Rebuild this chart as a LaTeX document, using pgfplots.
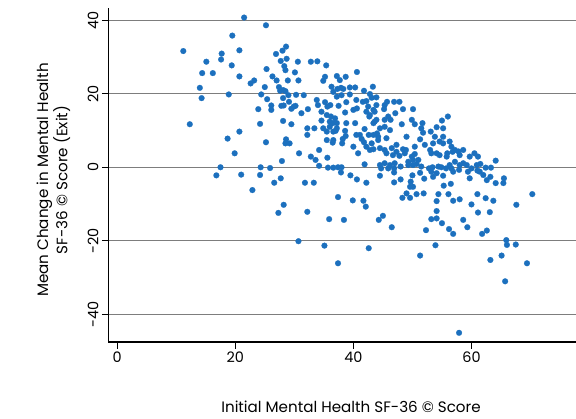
\documentclass[border=0pt]{standalone}
\usepackage{pgfplots}
\pgfplotsset{compat=1.18}
\usepackage{pgfplotstable}
\usepackage{fontspec}
\setmainfont{Poppins}
\definecolor{dotblue}{RGB}{28,112,190}
\definecolor{gridgray}{RGB}{125,125,125}
\pgfplotstableread{
x y
11.2 31.6
12.3 11.7
14.0 21.6
14.3 18.8
14.4 25.6
15.1 28.7
16.2 25.6
16.8 -2.2
17.5 0.0
17.7 30.9
17.6 29.3
18.7 7.8
18.9 19.8
19.5 35.8
19.4 27.7
19.9 3.8
20.7 31.8
20.7 24.7
20.7 9.7
21.0 -2.0
21.5 40.7
22.6 22.8
23.2 23.6
22.9 -6.2
23.9 15.8
24.2 11.8
24.3 0.0
24.2 -2.1
24.4 19.8
25.0 21.8
25.2 38.6
25.2 6.8
25.3 26.7
25.4 18.5
25.9 -0.2
26.1 16.8
26.1 15.6
26.3 24.7
26.6 -4.2
26.9 30.8
27.0 23.6
27.3 -12.4
27.4 21.8
27.6 20.8
27.7 28.9
27.7 -3.0
27.8 16.7
28.0 31.7
27.9 1.7
28.1 18.8
28.1 12.6
28.2 16.8
28.2 -10.2
28.3 27.5
28.5 26.4
28.5 20.7
28.6 32.8
28.7 29.5
28.6 7.6
28.5 6.5
28.9 23.6
29.0 19.6
29.1 17.8
29.2 6.5
29.5 15.9
29.5 11.7
29.9 16.5
30.1 25.8
30.2 16.7
30.3 19.7
30.6 28.7
30.7 23.6
30.7 -20.1
30.8 3.8
31.6 19.6
28.1 21.0
31.2 14.7
31.8 -4.2
32.2 10.6
32.2 8.8
32.2 -12.1
32.3 15.8
32.8 28.7
32.8 2.9
33.3 -4.2
33.4 10.6
33.6 2.0
33.8 18.3
33.9 28.8
34.0 16.9
34.2 0.4
34.2 4.7
34.6 15.1
34.6 12.7
34.9 23.5
34.9 10.6
35.1 -21.3
35.2 24.6
35.2 17.7
35.4 27.7
35.5 14.2
35.5 9.7
35.5 7.4
35.6 16.5
35.6 2.6
35.7 -0.1
35.9 -14.1
36.0 12.4
36.0 11.0
36.1 16.9
36.2 13.8
36.3 21.9
36.5 12.0
36.5 6.7
36.6 20.5
36.6 9.7
36.6 -0.1
36.6 7.4
36.9 13.3
37.0 9.9
37.2 24.8
37.2 19.2
37.2 12.0
37.2 10.6
37.3 21.3
37.4 0.0
37.4 -8.1
37.4 -26.1
37.5 16.7
37.7 23.7
37.9 21.6
37.9 -1.4
38.0 19.6
38.0 0.0
38.1 6.5
38.2 7.7
38.3 21.3
38.4 -14.3
38.6 14.9
38.6 9.9
38.7 24.6
38.7 8.5
38.8 17.7
38.8 12.0
39.4 21.7
39.4 19.8
39.5 -2.2
39.9 -9.0
40.0 15.6
40.0 5.6
40.3 21.7
40.3 12.0
40.5 18.3
40.5 8.8
40.6 25.9
40.6 16.0
40.6 -3.3
40.8 3.8
41.1 8.8
41.4 7.7
41.6 17.8
41.7 -9.1
41.8 20.8
41.8 6.8
41.9 10.4
41.9 0.8
42.1 -10.7
42.2 18.0
42.2 15.1
42.2 5.6
42.2 -4.2
42.5 16.5
42.6 8.8
42.6 -22.0
42.7 13.8
42.8 19.9
42.8 14.2
42.8 4.7
43.1 18.9
43.1 6.5
43.3 21.9
43.4 15.6
43.4 12.0
43.4 8.8
43.4 4.9
43.6 15.1
43.6 12.4
43.9 19.0
43.9 16.9
43.9 12.9
44.0 9.2
44.2 8.3
44.2 7.4
44.3 -14.3
44.5 10.6
44.5 5.2
44.5 0.6
44.7 -0.3
44.5 -2.3
45.0 -13.2
45.2 15.8
45.3 16.9
45.3 12.9
45.3 11.0
45.3 4.7
45.3 1.1
45.6 7.9
45.6 3.8
45.7 17.8
45.9 13.8
45.9 -0.3
46.2 10.1
46.2 0.6
46.3 12.9
46.5 5.2
46.5 -16.3
46.7 3.3
46.9 -0.3
46.9 17.8
46.9 -1.4
46.9 -4.1
47.0 1.1
47.1 14.7
47.3 6.1
47.3 4.2
47.8 17.8
47.8 3.1
48.0 0.2
48.0 -3.3
48.2 11.7
48.3 -8.3
48.4 15.8
48.4 4.9
48.7 3.8
48.9 4.7
49.0 8.3
49.0 -7.1
49.3 1.5
49.3 0.6
49.6 -5.3
49.6 -8.3
49.7 -3.9
49.9 12.9
49.9 2.9
50.0 -2.2
50.1 15.8
50.1 2.0
50.1 0.6
50.1 -5.3
50.4 11.7
50.4 5.6
50.4 3.6
50.7 0.9
50.7 -7.3
51.0 2.0
51.3 7.6
51.3 -1.5
51.3 -24.0
51.5 10.6
51.5 0.2
51.7 12.0
51.8 9.4
51.9 -7.1
52.0 -3.1
52.1 6.1
52.3 -17.1
52.8 -0.3
53.0 4.7
53.1 9.7
53.2 3.8
53.2 -1.2
53.2 -14.1
53.4 0.0
53.5 6.5
53.5 -2.6
53.8 8.3
53.9 -21.2
54.1 10.9
54.1 3.8
54.1 -1.6
54.1 -9.2
54.1 -11.9
54.1 -13.9
54.4 0.2
54.4 -7.3
54.6 7.0
54.6 3.3
54.9 0.0
55.0 12.7
55.0 -15.2
55.2 10.6
55.2 8.3
55.2 6.5
55.2 -2.3
55.3 -5.0
55.7 -0.3
55.8 2.9
55.9 3.8
56.0 13.8
56.1 -7.3
56.2 -16.8
56.3 7.0
56.3 0.6
56.5 -4.5
56.6 5.6
56.6 -0.3
56.8 4.2
56.9 -9.1
56.9 -18.1
56.9 -1.2
57.2 4.7
57.2 1.5
57.8 4.3
57.9 -45.0
57.9 -0.7
58.0 3.3
58.0 0.6
58.0 -8.7
58.6 4.7
58.6 1.1
58.6 -14.3
59.2 0.6
59.3 -16.3
59.4 -1.2
59.7 2.9
59.7 -3.0
60.0 -0.3
60.0 -10.1
60.5 3.8
60.9 0.6
61.0 -0.9
61.0 -7.3
61.1 2.9
61.1 -12.3
61.4 -1.2
61.5 0.9
61.8 -18.1
62.0 -2.1
62.4 -0.1
62.4 -8.4
62.6 -3.5
62.6 -17.2
63.1 -12.2
63.2 -2.6
63.2 -25.2
63.3 -0.1
63.7 -9.1
64.1 -4.3
64.1 1.8
65.1 -24.0
65.4 -4.3
65.5 -3.0
65.7 -31.0
65.9 -19.8
66.0 -21.1
67.5 -21.0
67.6 -10.2
69.4 -26.1
70.3 -7.3
}\pts
\begin{document}
\begin{tikzpicture}
\begin{axis}[
  scale only axis, width=467.7bp, height=334bp,
  xmin=-1.5, xmax=77.7, ymin=-47.5, ymax=43.3,
  axis x line=bottom, axis y line=left,
  axis line style={-, black, line width=1.2bp},
  xtick={0,20,40,60}, xticklabels={0,20,40,60},
  ytick={-40,-20,0,20,40}, yticklabels={-40,-20,0,20,40},
  tick align=outside, major tick length=6.5bp,
  tick style={black, line width=1bp},
  ymajorgrids, grid style={gridgray, line width=1bp},
  tick label style={font=\fontsize{14.5}{16}\selectfont},
  yticklabel style={rotate=90, anchor=south, xshift=0bp},
  label style={font=\fontsize{15.2}{17.5}\selectfont},
  xlabel={Initial Mental Health SF-36 © Score},
  xlabel style={at={(axis description cs:0.519,-0.1766)}, anchor=north, inner sep=0pt},
  ylabel={Mean Change in Mental Health\\SF-36 © Score (Exit)},
  ylabel style={at={(axis description cs:-0.1176,0.485)}, anchor=center, align=center, inner sep=0pt},
]
\addplot[only marks, mark=*, mark size=2.9bp, mark options={fill=dotblue, draw=dotblue, line width=0.2bp}] table[x=x, y=y] {\pts};
\end{axis}
\pgfresetboundingbox
\useasboundingbox (current axis.south west) ++(-108.3bp,-77bp) rectangle ([yshift=8bp]current axis.north east);
\end{tikzpicture}
\end{document}
